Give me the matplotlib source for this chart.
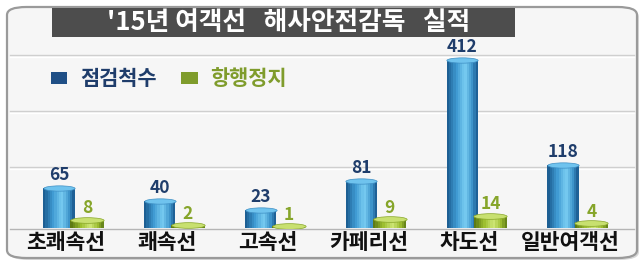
import numpy as np
import matplotlib
matplotlib.use('Agg')
import matplotlib.pyplot as plt
from matplotlib.patches import Rectangle, FancyBboxPatch, Patch
from matplotlib.lines import Line2D
from matplotlib.colors import LinearSegmentedColormap
from matplotlib.path import Path
from matplotlib.transforms import Affine2D

plt.rcParams['font.family'] = ['Noto Sans CJK KR', 'DejaVu Sans']

# chart data
title = "'15년 여객선   해사안전감독   실적"
categories = ['초쾌속선', '쾌속선', '고속선', '카페리선', '차도선', '일반여객선']
series_names = ['점검척수', '항행정지']
inspections = [65, 40, 23, 81, 412, 118]
suspensions = [8, 2, 1, 9, 14, 4]

W, H, DPI = 643, 265, 100
fig = plt.figure(figsize=(W / DPI, H / DPI), dpi=DPI)
fig.patch.set_facecolor('white')


def fx(px):
    return px / W


def fy(py):
    return 1 - py / H


# outer rounded frame (with a soft shadow)
shadow = FancyBboxPatch((fx(9), fy(260)), fx(630), 251 / H,
                        boxstyle='round,pad=0,rounding_size=0.03',
                        transform=fig.transFigure, facecolor='#d8d8d8',
                        edgecolor='none', zorder=-1)
fig.patches.append(shadow)
frame = FancyBboxPatch((fx(7), fy(258)), fx(630), 251 / H,
                       boxstyle='round,pad=0,rounding_size=0.03',
                       transform=fig.transFigure, facecolor='#f6f6f6',
                       edgecolor='#9a9a9a', linewidth=1.6, zorder=0)
fig.patches.append(frame)

# faint separator lines
for py in [55, 111, 167]:
    fig.add_artist(Line2D([fx(10), fx(634)], [fy(py), fy(py)], color='#cfcfcf', lw=1.0, zorder=1))
    fig.add_artist(Line2D([fx(10), fx(634)], [fy(py + 1.5), fy(py + 1.5)], color='white', lw=1.0, zorder=1))
fig.add_artist(Line2D([fx(10), fx(634)], [fy(229), fy(229)], color='#b5b5b5', lw=1.0, zorder=1))

# title banner
fig.patches.append(Rectangle((fx(52), fy(37)), fx(463), 29 / H, transform=fig.transFigure,
                             facecolor='#4d4d4d', edgecolor='none', zorder=2))
fig.text(fx(289), fy(22.5), title, color='white', fontsize=18.5, fontweight='bold',
         ha='center', va='center', zorder=3)

# bars
ax_left, ax_width = 21.6, 605
ax = fig.add_axes([fx(ax_left), 37 / H, fx(ax_width), 173 / H])
ax.set_zorder(5)
ax.patch.set_alpha(0)
p = 0.78
ax.set_yscale('function', functions=(lambda v: np.power(np.maximum(v, 0), p),
                                     lambda v: np.power(np.maximum(v, 0), 1 / p)))
ax.set_xlim(-0.5, len(categories) - 0.5)
ax.set_ylim(0, 428)

x = np.arange(len(categories))
blue_cmap = LinearSegmentedColormap.from_list('b', [(0, '#1d5f93'), (0.3, '#3f9ad2'),
                                                     (0.6, '#78ccf2'), (0.85, '#3d93ca'), (1, '#1f6197')])
green_cmap = LinearSegmentedColormap.from_list('g', [(0, '#5e7b14'), (0.3, '#9cbe30'),
                                                      (0.6, '#cfe778'), (0.85, '#9aba2e'), (1, '#68861b')])

bw, gw = 0.31, 0.33
boff, goff = -0.13, 0.15
n = 14


def gradient_bars(xc, vals, width, cmap, z):
    for k in range(n):
        ax.bar(xc - width / 2 + (k + 0.5) * width / n, vals, width=width / n * 1.02,
               color=cmap(k / (n - 1)), linewidth=0, zorder=z)


gradient_bars(x + boff, inspections, bw, blue_cmap, 3)
gradient_bars(x + goff, suspensions, gw, green_cmap, 4)

# elliptical caps on top of the cylinders
cap = Path.unit_circle().transformed(Affine2D().scale(1, 0.17))
px_per_unit = ax_width / len(categories)
ax.plot(x + boff, inspections, ls='none', marker=cap, ms=bw * px_per_unit * 72 / DPI,
        mfc='#6fc3ee', mec='#3f8fc4', mew=0.5, zorder=3.5)
ax.plot(x + goff, suspensions, ls='none', marker=cap, ms=gw * px_per_unit * 72 / DPI,
        mfc='#c8e070', mec='#88a62a', mew=0.5, zorder=4.5)

for xi, v in zip(x + boff, inspections):
    ax.annotate(str(v), (xi, v), xytext=(0, 3), textcoords='offset points', ha='center', va='bottom',
                fontsize=12.5, fontweight='bold', color='#1f3d6b', zorder=6)
for xi, v in zip(x + goff, suspensions):
    ax.annotate(str(v), (xi, v), xytext=(0, 2), textcoords='offset points', ha='center', va='bottom',
                fontsize=12.5, fontweight='bold', color='#86a52a', zorder=6)

ax.set_xticks(x - 0.06)
ax.set_xticklabels(categories, fontsize=15.5, fontweight='bold', color='#111111')
ax.tick_params(axis='x', length=0, pad=3)
ax.set_yticks([])
ax.yaxis.set_minor_locator(matplotlib.ticker.NullLocator())
for s in ax.spines.values():
    s.set_visible(False)

# legend
handles = [Patch(facecolor='#1f4f86', edgecolor='none'), Patch(facecolor='#7f9c2c', edgecolor='none')]
leg = fig.legend(handles, series_names, loc='center left', bbox_to_anchor=(fx(32), fy(79)),
                 ncol=2, frameon=False, handlelength=0.8, handleheight=0.5, handletextpad=0.6,
                 columnspacing=1.2, prop={'size': 15, 'weight': 'bold'})
for t, c in zip(leg.get_texts(), ['#1f3d6b', '#7f9c2c']):
    t.set_color(c)

fig.savefig('out.png', dpi=DPI)
